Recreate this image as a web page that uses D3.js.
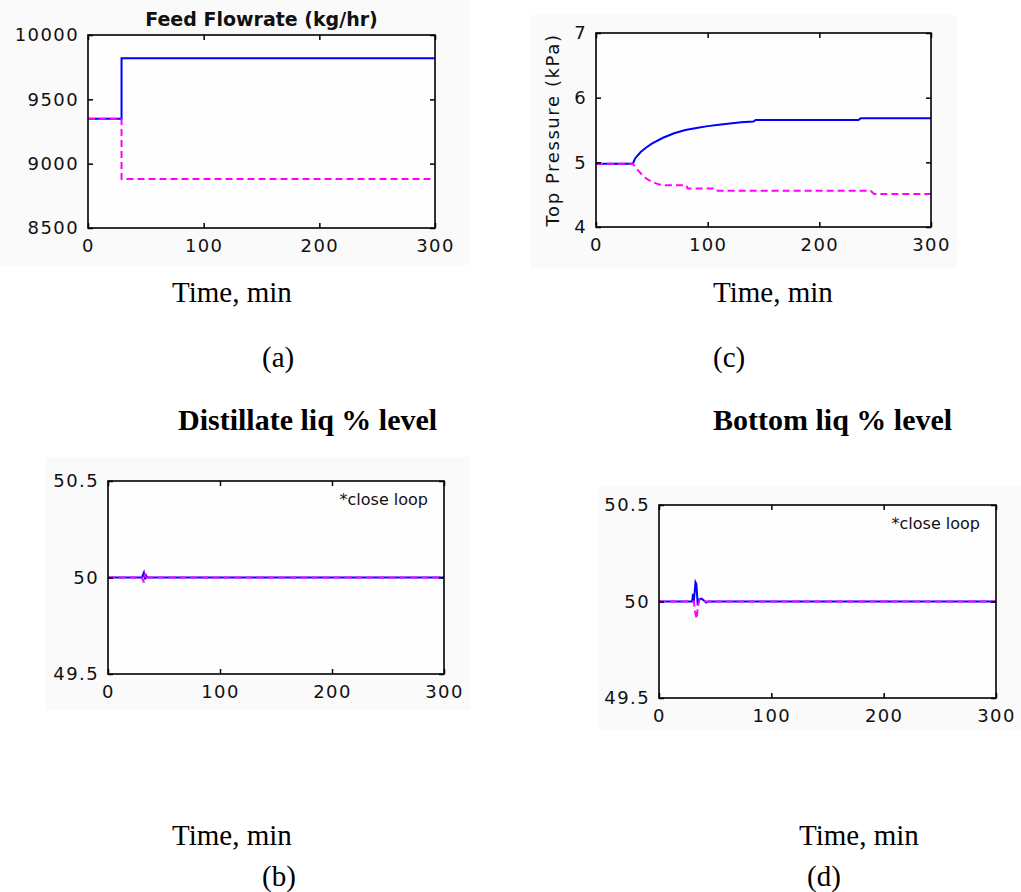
<!DOCTYPE html>
<html>
<head>
<meta charset="utf-8">
<script src="https://cdn.jsdelivr.net/npm/d3@7"></script>
<style>
  html, body { margin: 0; padding: 0; background: #fff; }
  svg { display: block; }
</style>
</head>
<body>
<script>
// ---- values ----
const timeTicks = [0, 100, 200, 300];
const feedTicks = [8500, 9000, 9500, 10000];
const pressureTicks = [4, 5, 6, 7];
const levelTicks = [49.5, 50, 50.5];

// Feed flowrate step (kg/hr)
const feedTime = [0, 29, 29, 300];
const feedUp = [9350, 9350, 9820, 9820];
const feedDown = [9350, 9350, 8880, 8880];

// Top pressure (kPa)
const presTimeUp = [0, 33, 35, 40, 45, 50, 60, 70, 80, 90, 100, 110, 120, 130, 141, 143, 235, 237, 300];
const presUp = [4.98, 4.98, 5.06, 5.16, 5.23, 5.29, 5.38, 5.45, 5.50, 5.53, 5.56, 5.58, 5.60, 5.62, 5.63, 5.655, 5.655, 5.68, 5.68];
const presTimeDown = [0, 33, 36, 40, 45, 50, 56, 62, 81, 82, 105, 107, 246, 249, 300];
const presDown = [4.98, 4.98, 4.91, 4.83, 4.75, 4.70, 4.66, 4.645, 4.645, 4.595, 4.595, 4.56, 4.56, 4.51, 4.51];

// Distillate liquid level (%)
const distTimeUp = [0, 30, 31, 32, 33, 34, 35, 36, 300];
const distUp = [50, 50, 50.01, 50.025, 49.99, 50.01, 50, 50, 50];
const distTimeDown = [0, 30, 31, 32, 33, 34, 35, 36, 300];
const distDown = [50, 50, 49.99, 49.975, 50.02, 49.99, 50, 50, 50];

// Bottom liquid level (%)
const botTimeUp = [0, 29.5, 30.3, 31, 32.5, 33.3, 34.5, 35.5, 37.8, 40, 42, 44, 300];
const botUp = [50, 50, 50.04, 50, 50.1, 50.09, 49.98, 50.01, 50.015, 50.005, 49.995, 50, 50];
const botTimeDown = [0, 31, 32, 33.5, 34.5, 36, 40, 42, 300];
const botDown = [50, 50, 49.95, 49.91, 49.97, 50.01, 50.005, 50, 50];

const BLUE = "#0000ff";
const MAGENTA = "#ff00ff";

const W = 1021, H = 892;
const svg = d3.select("body").append("svg").attr("width", W).attr("height", H);
svg.append("rect").attr("width", W).attr("height", H).attr("fill", "#fff");

const axisFont = "'DejaVu Sans', Verdana, sans-serif";
const serifFont = "'Liberation Serif', 'Times New Roman', serif";

// figure backgrounds behind each axes
const figures = [
  { x: 0, y: 0, w: 470, h: 265 },
  { x: 530, y: 15, w: 427, h: 253 },
  { x: 45, y: 457, w: 425, h: 253 },
  { x: 598, y: 487, w: 423, h: 243 }
];
figures.forEach(f => svg.append("rect").attr("x", f.x).attr("y", f.y)
  .attr("width", f.w).attr("height", f.h).attr("fill", "#fafafa"));

function drawPanel(cfg) {
  const g = svg.append("g");
  const x = d3.scaleLinear().domain([0, 300]).range([cfg.left, cfg.right]);
  const y = d3.scaleLinear().domain(cfg.yDomain).range([cfg.bottom, cfg.top]);

  g.append("rect").attr("x", cfg.left).attr("y", cfg.top)
    .attr("width", cfg.right - cfg.left).attr("height", cfg.bottom - cfg.top)
    .attr("fill", "#fefefe");

  const line = d3.line().x(d => x(d[0])).y(d => y(d[1]));
  cfg.series.forEach(s => {
    g.append("path").datum(d3.zip(s.t, s.v))
      .attr("d", line)
      .attr("fill", "none")
      .attr("stroke", s.color)
      .attr("stroke-width", 2)
      .attr("stroke-dasharray", s.dash || null);
  });

  const style = sel => {
    sel.attr("font-family", axisFont).attr("font-size", 18);
    sel.select(".domain").remove();
    sel.selectAll(".tick line").attr("stroke", "#000").attr("stroke-width", 1.5);
    sel.selectAll(".tick text").attr("fill", "#111").style("letter-spacing", "1.4px");
  };

  g.append("g").attr("transform", `translate(0,${cfg.bottom})`)
    .call(d3.axisBottom(x).tickValues(timeTicks).tickSizeInner(-5).tickSizeOuter(0).tickPadding(11))
    .call(style);
  g.append("g").attr("transform", `translate(0,${cfg.top})`)
    .call(d3.axisTop(x).tickValues(timeTicks).tickSizeInner(-5).tickSizeOuter(0).tickFormat(""))
    .call(style);
  g.append("g").attr("transform", `translate(${cfg.left},0)`)
    .call(d3.axisLeft(y).tickValues(cfg.yTicks).tickSizeInner(-5).tickSizeOuter(0).tickPadding(9).tickFormat(cfg.yFormat))
    .call(style);
  g.append("g").attr("transform", `translate(${cfg.right},0)`)
    .call(d3.axisRight(y).tickValues(cfg.yTicks).tickSizeInner(-5).tickSizeOuter(0).tickFormat(""))
    .call(style);

  g.append("rect").attr("x", cfg.left).attr("y", cfg.top)
    .attr("width", cfg.right - cfg.left).attr("height", cfg.bottom - cfg.top)
    .attr("fill", "none").attr("stroke", "#000").attr("stroke-width", 1.6);

  if (cfg.title) {
    g.append("text").attr("x", (cfg.left + cfg.right) / 2).attr("y", cfg.top - 9)
      .attr("text-anchor", "middle").attr("font-family", axisFont)
      .attr("font-weight", "bold").attr("font-size", 19).attr("fill", "#111")
      .text(cfg.title);
  }
  if (cfg.ylabel) {
    g.append("text")
      .attr("transform", `translate(${cfg.left - 37},${(cfg.top + cfg.bottom) / 2}) rotate(-90)`)
      .attr("text-anchor", "middle").attr("font-family", axisFont)
      .attr("font-size", 18).style("letter-spacing", "1.6px").attr("fill", "#111")
      .text(cfg.ylabel);
  }
  if (cfg.note) {
    g.append("text").attr("x", cfg.right - 16).attr("y", cfg.top + 24)
      .attr("text-anchor", "end").attr("font-family", axisFont)
      .attr("font-size", 16).attr("fill", "#111")
      .text(cfg.note);
  }
}

drawPanel({
  left: 88, right: 435, top: 35, bottom: 228,
  yDomain: [8500, 10000], yTicks: feedTicks, yFormat: d3.format("d"),
  title: "Feed Flowrate (kg/hr)",
  series: [
    { t: feedTime, v: feedUp, color: BLUE },
    { t: feedTime, v: feedDown, color: MAGENTA, dash: "7,4" }
  ]
});

drawPanel({
  left: 596, right: 931, top: 33, bottom: 227,
  yDomain: [4, 7], yTicks: pressureTicks, yFormat: d3.format("d"),
  ylabel: "Top Pressure (kPa)",
  series: [
    { t: presTimeUp, v: presUp, color: BLUE },
    { t: presTimeDown, v: presDown, color: MAGENTA, dash: "7,4" }
  ]
});

drawPanel({
  left: 108, right: 444, top: 481, bottom: 674,
  yDomain: [49.5, 50.5], yTicks: levelTicks, yFormat: d => String(d),
  note: "*close loop",
  series: [
    { t: distTimeUp, v: distUp, color: BLUE },
    { t: distTimeDown, v: distDown, color: MAGENTA, dash: "7,4" }
  ]
});

drawPanel({
  left: 659, right: 996, top: 505, bottom: 698,
  yDomain: [49.5, 50.5], yTicks: levelTicks, yFormat: d => String(d),
  note: "*close loop",
  series: [
    { t: botTimeUp, v: botUp, color: BLUE },
    { t: botTimeDown, v: botDown, color: MAGENTA, dash: "7,4" }
  ]
});

// captions set in the document body font
const captions = [
  { x: 172, y: 302, text: "Time, min" },
  { x: 262, y: 367, text: "(a)" },
  { x: 713, y: 302, text: "Time, min" },
  { x: 713, y: 367, text: "(c)" },
  { x: 178, y: 430, text: "Distillate liq % level", bold: true },
  { x: 713, y: 430, text: "Bottom liq % level", bold: true },
  { x: 172, y: 845, text: "Time, min" },
  { x: 262, y: 886, text: "(b)" },
  { x: 799, y: 845, text: "Time, min" },
  { x: 807, y: 886, text: "(d)" }
];
svg.selectAll("text.caption").data(captions).join("text")
  .attr("class", "caption")
  .attr("x", d => d.x).attr("y", d => d.y)
  .attr("font-family", serifFont)
  .attr("font-size", d => d.bold ? 30 : 29)
  .attr("font-weight", d => d.bold ? "bold" : "normal")
  .attr("fill", "#000")
  .text(d => d.text);
</script>
</body>
</html>
